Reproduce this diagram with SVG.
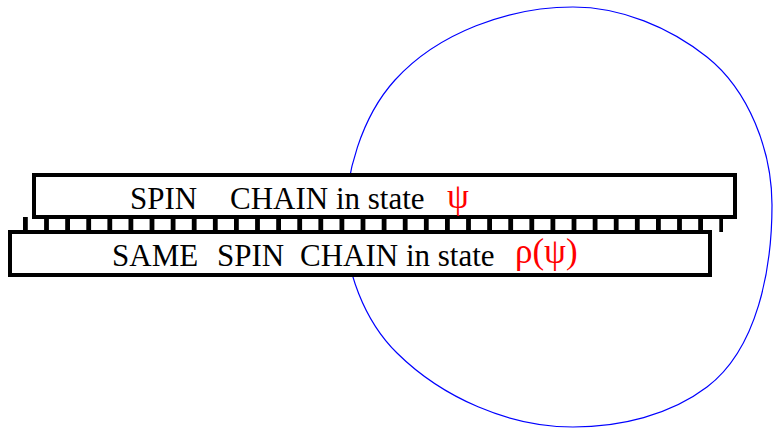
<svg xmlns="http://www.w3.org/2000/svg" width="773" height="428" viewBox="0 0 773 428">
<style>
  .box { fill: #ffffff; stroke: #000000; stroke-width: 4; }
  .lbl { font-family: "Liberation Serif", "Times New Roman", serif; font-size: 31px; fill: #000000; }
  .red { fill: #ff0000; font-size: 35px; }
  .loop { fill: none; stroke: #0000ff; stroke-width: 1.2; }
</style>
<rect width="773" height="428" fill="#ffffff"/>
<g id="connectors">
  <path class="loop" d="M 345 224 C 345 174, 361.5 117, 395 80 C 438 32.6, 509 7, 573 7 C 621 7, 669.6 27.2, 707 57 C 749 90.5, 772 151, 772 205 C 772 269, 757.6 348.6, 707 387 C 669.9 415.2, 620 427, 573 427 C 509 427, 442.4 397.8, 397 353 C 364.3 320.8, 345 270, 345 224 Z"/>
</g>
<g id="ladder">
  <rect x="27" y="219" width="691" height="11" fill="#ffffff"/>
  <line x1="23" y1="224.5" x2="723" y2="224.5" stroke="#000000" stroke-width="15" stroke-dasharray="4.8 16.3"/>
</g>
<g id="chain-top">
  <rect class="box" x="34" y="175" width="701" height="42"/>
  <text class="lbl" y="209"><tspan x="130">SPIN</tspan><tspan x="230">CHAIN in state</tspan><tspan class="red" x="447" y="208">ψ</tspan></text>
</g>
<g id="chain-bottom">
  <rect class="box" x="10" y="232" width="700" height="43"/>
  <text class="lbl" y="266"><tspan x="112">SAME</tspan><tspan x="217">SPIN</tspan><tspan x="300">CHAIN in state</tspan><tspan class="red" x="515" y="263">ρ(ψ)</tspan></text>
</g>
</svg>
